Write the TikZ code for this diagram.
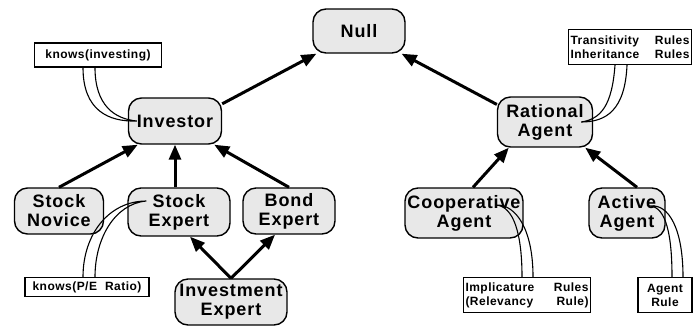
\documentclass[tikz,border=0pt]{standalone}
\usepackage{fontspec}
\setmainfont{Liberation Sans}
\newfontfamily\conceptfont{Liberation Sans}[LetterSpace=5]
\newfontfamily\notefont{Liberation Sans}[LetterSpace=4]
\usetikzlibrary{
	arrows.meta,
	calc,
	positioning
}

\begin{document}
\begin{tikzpicture}[
			x=1pt,y=-1pt,
			concept/.style={
				rectangle,
				draw,
				line width=1.4pt,
				rounded corners=13pt,
				fill=gray!18,
				align=center,
				inner sep=0pt,
				font=\conceptfont\fontsize{18}{19}\selectfont\bfseries
			},
			note/.style={
				rectangle,
				draw,
				line width=1.3pt,
				fill=white,
				inner sep=2pt,
				align=left,
				font=\notefont\fontsize{12}{14}\selectfont\bfseries
			},
			arr/.style={
				line width=3pt,
				-{Triangle[length=15pt,width=12pt]}
			},
			link/.style={
				line width=1.1pt
			}
			]
			
			\useasboundingbox (0,0) rectangle (700,325);
			
			\node[concept, minimum width=92pt, minimum height=44pt] (null) at (359,31) {Null};
			
			\node[concept, minimum width=93pt, minimum height=46pt] (inv) at (175,121) {Investor};
			
			\node[concept, minimum width=95pt, minimum height=50pt] (rat) at (545,122) {Rational\\Agent};
			
			\node[concept, minimum width=89pt, minimum height=46pt] (nov) at (59,211) {Stock\\Novice};
			
			\node[concept, minimum width=102pt, minimum height=48pt] (sexp) at (179,212) {Stock\\Expert};
			
			\node[concept, minimum width=92pt, minimum height=46pt] (bexp) at (289,211) {Bond\\Expert};
			
			\node[concept, minimum width=112pt, minimum height=46pt] (iexp) at (231,302) {Investment\\Expert};
			
			\node[concept, minimum width=118pt, minimum height=50pt] (coop) at (464,213) {Cooperative\\Agent};
			
			\node[concept, minimum width=76pt, minimum height=50pt] (act) at (627,213) {Active\\Agent};
			
			% attached rules
			\node[note, minimum width=127pt, minimum height=24pt] (kinv) at (98,55) {knows(investing)};
			
			\node[note, text width=119pt, minimum height=35pt] (trans) at (630,47) {
				Transitivity\hfill Rules\\
				Inheritance\hfill Rules
			};
			
			\node[note, minimum width=124pt, minimum height=19pt, inner sep=1pt] (kpe) at (87,287) {knows(P/E\hspace{8pt}Ratio)};
			
			\node[note, text width=123pt, minimum height=35pt] (impl) at (527,295) {
				Implicature\hfill Rules\\
				(Relevancy\hfill Rule)
			};
			
			\node[note, text width=50pt, minimum height=35pt, align=center] (arule) at (665,295) {
				Agent\\
				Rule
			};
			
			\draw[arr] (inv.20) -- (null);
			\draw[arr] (rat.160) -- (null);
			\draw[arr] (nov.north) -- ([xshift=10pt]inv.south west);
			\draw[arr] (sexp.north -| inv.south) -- (inv.south);
			\draw[arr] (bexp.north) -- ([xshift=-8pt]inv.south east);
			\draw[arr] (iexp.north) -- ([xshift=11pt]sexp.south);
			\draw[arr] (iexp.north) -- ([xshift=-14pt]bexp.south);
			\draw[arr] ([xshift=9pt]coop.north) -- ([xshift=12pt]rat.south west);
			\draw[arr] ([xshift=10pt]act.north) -- ([xshift=-8pt]rat.south east);
			
			% double strands from the rule boxes
			\draw[link] ([xshift=-15pt]kinv.south) .. controls +(0,43) and +(-28,1) .. ([xshift=9pt]inv.west)
				.. controls +(-22,-2) and +(0,38) .. ([xshift=-3pt]kinv.south);
			\draw[link] ([xshift=-15pt]trans.south) .. controls +(-3,40) and +(20,-3) .. ([xshift=-12pt]rat.east)
				.. controls +(25,0) and +(-2,45) .. ([xshift=-3pt]trans.south);
			\draw[link] ([xshift=-4pt]kpe.north) .. controls +(0,-43) and +(-37,0) .. ([xshift=19pt,yshift=11pt]sexp.west)
				.. controls +(-32,3) and +(0,-38) .. ([xshift=8pt]kpe.north);
			\draw[link] ([xshift=-5pt]impl.north) .. controls +(0,-43) and +(18,1) .. ([xshift=-28pt,yshift=8pt]coop.east)
				.. controls +(20,-1) and +(0,-48) .. ([xshift=6pt]impl.north);
			\draw[link] ([xshift=7pt]arule.north) .. controls +(0,-43) and +(15,2) .. ([xshift=-15pt,yshift=7pt]act.east)
				.. controls +(18,-2) and +(0,-48) .. ([xshift=18pt]arule.north);
			
		\end{tikzpicture}
\end{document}
